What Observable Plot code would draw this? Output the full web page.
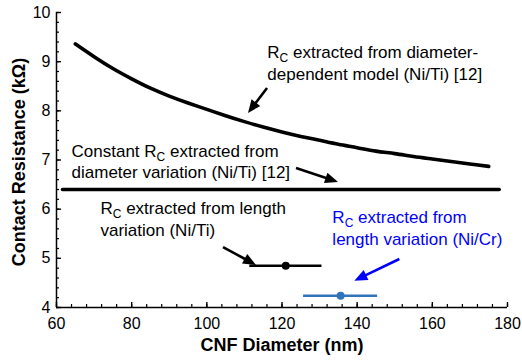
<!DOCTYPE html>
<html><head><meta charset="utf-8">
<script src="https://cdn.jsdelivr.net/npm/d3@7"></script>
<script src="https://cdn.jsdelivr.net/npm/@observablehq/plot@0.6"></script>
<style>body{margin:0;background:#fff}</style>
</head><body><div id="chart"></div>
<script>
// Diameter-dependent model curve (Ni/Ti)
const diameter = [65,70,75,80,85,90,95,100,105,110,115,120,125,130,135,140,145,150,155,160,165,170,175];
const rcModel  = [9.36,9.1,8.86,8.65,8.46,8.3,8.16,8.03,7.9,7.78,7.67,7.57,7.48,7.4,7.32,7.25,7.18,7.13,7.07,7.02,6.97,6.92,6.87];
// Constant Rc from diameter variation
const constX = [61.6, 177.8];
const constRc = 6.4;
// Rc from length variation
const lenName = ["Ni/Ti", "Ni/Cr"];
const lenX  = [121, 135.6];
const lenLo = [111.3, 125.6];
const lenHi = [130.5, 145.3];
const lenRc = [4.85, 4.24];
const lenColor = ["black", "#3274bc"];
// Ticks
const xTicks = [60, 80, 100, 120, 140, 160, 180];
const yTicks = [4, 5, 6, 7, 8, 9, 10];
const xMinor = d3.range(60, 181, 4);
const yMinor = d3.range(40, 101, 2).map(v => v / 10);
// Annotations
const noteText = [
  "R_C extracted from diameter-\ndependent model (Ni/Ti) [12]",
  "Constant R_C extracted from\ndiameter variation (Ni/Ti) [12]",
  "R_C extracted from length\nvariation (Ni/Ti)",
  "R_C extracted from\nlength variation (Ni/Cr)"
];
const noteX = [116.1, 64.0, 71.7, 133.4];
const noteY = [8.637, 6.624, 5.464, 5.281];
const noteColor = ["black", "black", "black", "#0000ff"];
const arrowX1 = [116.15, 123.86, 104.44, 151.35];
const arrowY1 = [8.454, 6.827, 5.22, 4.976];
const arrowX2 = [111.09, 135.04, 113.22, 139.38];
const arrowY2 = [7.946, 6.542, 4.854, 4.535];

const curveData = diameter.map((d, i) => ({d, rc: rcModel[i]}));
const constData = constX.map(x => ({x, rc: constRc}));
const lenData = lenName.map((n, i) => ({n, x: lenX[i], lo: lenLo[i], hi: lenHi[i], rc: lenRc[i], c: lenColor[i]}));
const noteData = noteText.map((t, i) => ({t, x: noteX[i], y: noteY[i], c: noteColor[i]}));

function arrows(index, scales) {
  const g = d3.create("svg:g").attr("aria-label", "arrows");
  for (let i = 0; i < arrowX1.length; i++) {
    const c = noteColor[i];
    const x1 = scales.x(arrowX1[i]), y1 = scales.y(arrowY1[i]);
    const x2 = scales.x(arrowX2[i]), y2 = scales.y(arrowY2[i]);
    const dx = x2 - x1, dy = y2 - y1, L = Math.hypot(dx, dy), ux = dx / L, uy = dy / L;
    const hl = 13, hw = 5.5;
    const bx = x2 - ux * hl, by = y2 - uy * hl;
    g.append("line").attr("x1", x1).attr("y1", y1).attr("x2", bx + ux * 2).attr("y2", by + uy * 2)
      .attr("stroke", c).attr("stroke-width", 2.6);
    g.append("path").attr("d", `M${x2},${y2}L${bx - uy * hw},${by + ux * hw}L${bx + uy * hw},${by - ux * hw}Z`)
      .attr("fill", c);
  }
  return g.node();
}

const W = 522, H = 363, mL = 56, mR = 15, mT = 12, mB = 56;
const fw = W - mL - mR, fh = H - mT - mB;

const plot = Plot.plot({
  width: W, height: H,
  marginLeft: mL, marginRight: mR, marginTop: mT, marginBottom: mB,
  x: {domain: [60, 180]},
  y: {domain: [4, 10]},
  color: {type: "identity"},
  style: {fontFamily: "'Liberation Sans', Arial, sans-serif", fontSize: "16px", color: "black", background: "white"},
  marks: [
    Plot.ruleX(xMinor, {x: d => d, insetTop: fh - 3, strokeWidth: 1.2}),
    Plot.ruleX(xTicks, {x: d => d, insetTop: fh - 5, strokeWidth: 1.4}),
    Plot.ruleY(yMinor, {y: d => d, insetRight: fw - 3, strokeWidth: 1.2}),
    Plot.ruleY(yTicks, {y: d => d, insetRight: fw - 5, strokeWidth: 1.4}),
    Plot.ruleX([60], {strokeWidth: 1.5}),
    Plot.ruleY([4], {strokeWidth: 1.5}),
    Plot.axisX(xTicks, {tickSize: 0, tickPadding: 10, label: null, fontSize: 16}),
    Plot.axisY(yTicks, {tickSize: 0, tickPadding: 6, label: null, fontSize: 16}),
    Plot.text(["CNF Diameter (nm)"], {text: d => d, frameAnchor: "bottom", dy: 43, lineAnchor: "bottom", fontWeight: "bold", fontSize: 18}),
    Plot.text(["Contact Resistance (kΩ)"], {text: d => d, frameAnchor: "left", textAnchor: "middle", lineAnchor: "middle", rotate: -90, dx: -37, dy: 2, fontWeight: "bold", fontSize: 18}),
    Plot.line(curveData, {x: "d", y: "rc", stroke: "black", strokeWidth: 3.6, curve: "natural"}),
    Plot.line(constData, {x: "x", y: "rc", stroke: "black", strokeWidth: 3.6}),
    Plot.link(lenData, {x1: "lo", x2: "hi", y1: "rc", y2: "rc", stroke: "c", strokeWidth: 2.6}),
    Plot.dot(lenData, {x: "x", y: "rc", r: 4, fill: "c", stroke: "none"}),
    Plot.text(noteData, {x: "x", y: "y", text: "t", fill: "c", textAnchor: "start", lineAnchor: "bottom", lineHeight: 1.24, fontSize: 17}),
    arrows
  ]
});

// Subscript "C" in R_C
const NS = "http://www.w3.org/2000/svg";
plot.querySelectorAll("text").forEach(txt => {
  const spans = txt.querySelectorAll("tspan");
  const nodes = spans.length ? Array.from(spans) : [txt];
  nodes.forEach(n => {
    const t = n.textContent;
    if (!t.includes("R_C")) return;
    const k = t.indexOf("R_C");
    n.textContent = "";
    n.appendChild(document.createTextNode(t.slice(0, k) + "R"));
    const sub = document.createElementNS(NS, "tspan");
    sub.setAttribute("dy", "4");
    sub.setAttribute("font-size", "12");
    sub.textContent = "C";
    n.appendChild(sub);
    const rest = document.createElementNS(NS, "tspan");
    rest.setAttribute("dy", "-4");
    rest.textContent = t.slice(k + 3);
    n.appendChild(rest);
  });
});

document.getElementById("chart").appendChild(plot);
</script>
</body></html>
